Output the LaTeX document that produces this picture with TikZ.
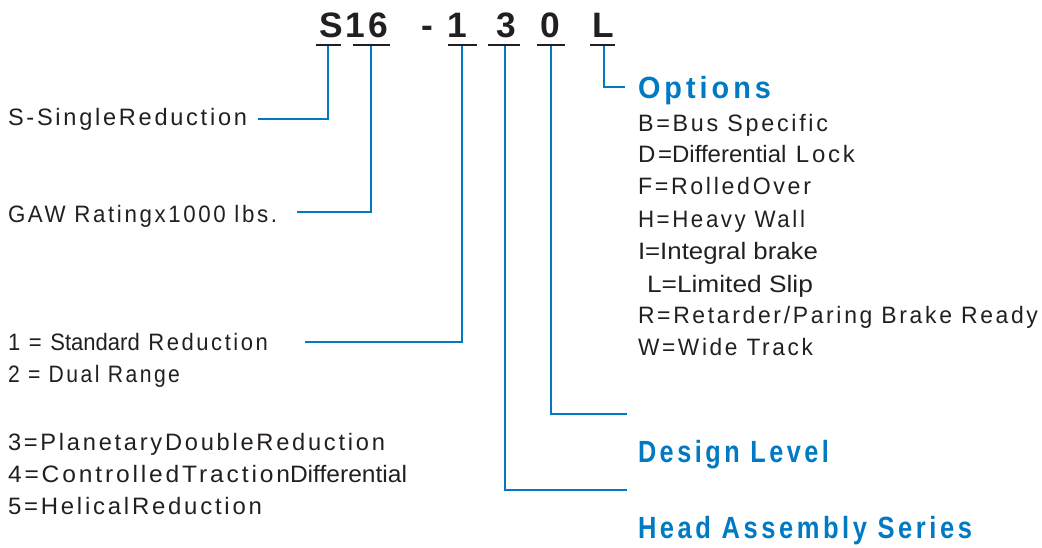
\documentclass[tikz,border=0pt]{standalone}
\usepackage{fontspec}
\usepackage{graphicx}
\setmainfont{Liberation Sans}
\newfontfamily\spf[FakeStretch=0.86,LetterSpace=10]{Liberation Sans}
\newfontfamily\tgf[FakeStretch=0.86]{Liberation Sans}
\newfontfamily\hdf[FakeStretch=0.86,LetterSpace=12]{Liberation Sans}
\newlength\pxu
\setlength\pxu{0.75pt}
\newcommand\fw[2]{\resizebox{#1\pxu}{\height}{#2}}
\definecolor{blu}{RGB}{0,122,194}
\definecolor{ink}{RGB}{35,31,32}
\tikzset{
  lbl/.style={anchor=base west, inner sep=0pt, outer sep=0pt, text=ink, font=\fontsize{17.8}{20}\spf},
  hd/.style={anchor=base west, inner sep=0pt, outer sep=0pt, text=blu, font=\fontsize{23}{26}\hdf\bfseries},
  code/.style={anchor=base, inner sep=0pt, outer sep=0pt, text=ink, font=\fontsize{26.5}{30}\selectfont\bfseries},
  conn/.style={draw=blu, line width=1.9pt},
  uline/.style={draw=ink, line width=1.8pt}
}
\begin{document}
\begin{tikzpicture}[x=0.75pt,y=-0.75pt]
\useasboundingbox (0,0) rectangle (1042,547);
% code characters
\node[code] (cS) at (331,37) {S};
\node[code] (c1a) at (355,37) {1};
\node[code] (c6) at (378,37) {6};
\node[code] (cdash) at (427,37) {-};
\node[code] (c1) at (457,37) {1};
\node[code] (c3) at (506,37) {3};
\node[code] (c0) at (550,37) {0};
\node[code] (cL) at (603,37) {L};
% underlines
\draw[uline] (316,45) -- (341,45);
\draw[uline] (353,45) -- (390,45);
\draw[uline] (448,45) -- (477,45);
\draw[uline] (488,45) -- (520,45);
\draw[uline] (537,45) -- (565,45);
\draw[uline] (590,45) -- (615,45);
\coordinate (uS) at (328,46);
\coordinate (u16) at (371,46);
\coordinate (u1) at (462,46);
\coordinate (u3) at (505,46);
\coordinate (u0) at (551,46);
\coordinate (uL) at (604,46);
% left labels
\node[lbl] (sred) at (8,125) {\fw{239}{S-SingleReduction}};
\node[lbl] (gaw) at (8,222) {\fw{269}{GAW Ratingx1000 lbs.}};
\node[lbl] (std) at (8,350) {\fw{260}{1 = {\tgf Standard} Reduction}};
\node[lbl] (dual) at (8,382) {\fw{172}{2 = Dual Range}};
\node[lbl] (plan) at (8,450) {\fw{377}{3=PlanetaryDoubleReduction}};
\node[lbl] (ctd) at (8,482) {\fw{399}{4=ControlledTraction{\tgf Differential}}};
\node[lbl] (hel) at (8,514) {\fw{254}{5=HelicalReduction}};
% options
\node[hd] (opt) at (638,98) {\fw{133}{Options}};
\node[lbl] (o1) at (638,131) {\fw{190}{B=Bus Specific}};
\node[lbl] (o2) at (638,162) {\fw{217}{D={\tgf Differential} Lock}};
\node[lbl] (o3) at (638,194) {\fw{173}{F=RolledOver}};
\node[lbl] (o4) at (638,227) {\fw{167}{H=Heavy Wall}};
\node[lbl] (o5) at (638,259) {\fw{180}{{\tgf I=Integral brake}}};
\node[lbl] (o6) at (647,292) {\fw{166}{{\tgf L=Limited Slip}}};
\node[lbl] (o7) at (638,323) {\fw{400}{R=Retarder/Paring Brake Ready}};
\node[lbl] (o8) at (638,355) {\fw{175}{W=Wide Track}};
\node[hd] (dl) at (638,462) {\fw{191}{Design Level}};
\node[hd] (has) at (638,538) {\fw{334}{Head Assembly Series}};
% connector ends
\coordinate (eS) at (258,119);
\coordinate (e16) at (297,212);
\coordinate (e1) at (305,342);
\coordinate (e3) at (627,490);
\coordinate (e0) at (627,414);
\coordinate (eL) at (625,87);
% connectors
\draw[conn] (uS) |- (eS);
\draw[conn] (u16) |- (e16);
\draw[conn] (u1) |- (e1);
\draw[conn] (u3) |- (e3);
\draw[conn] (u0) |- (e0);
\draw[conn] (uL) |- (eL);
\end{tikzpicture}
\end{document}
